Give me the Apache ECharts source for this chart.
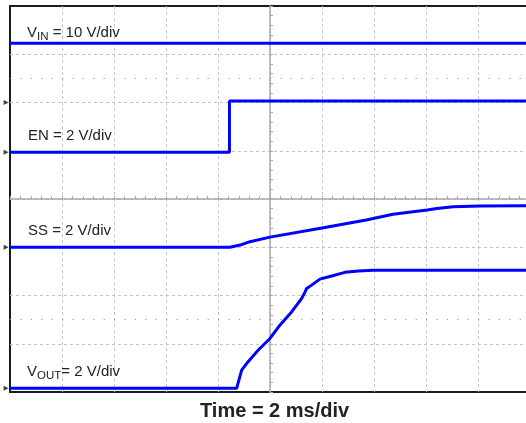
<!DOCTYPE html>
<html>
<head>
<meta charset="utf-8">
<script src="https://cdn.jsdelivr.net/npm/echarts@6/dist/echarts.min.js"></script>
<style>
html,body{margin:0;padding:0;background:#fff;}
#c{width:526px;height:423px;}
</style>
</head>
<body>
<div id="c"></div>
<script>
// Time axis in ms relative to screen centre (2 ms/div, 10 div)
const timeTicks = [-10, -8, -6, -4, -2, 0, 2, 4, 6, 8, 10];
// Channel settings: V/div and ground offset (divisions from centre)
const channelNames = ['VIN', 'EN', 'SS', 'VOUT'];
const channelScale = [10, 2, 2, 2];
const channelOffset = [2, 0.97, -1, -3.92];

// Traces (time ms, volts)
const vinTime = [-10, 10];
const vinVolts = [12.3, 12.3];

const enTime = [-10, -1.56, -1.56, 10];
const enVolts = [0, 0, 2.12, 2.12];

const ssTime = [-10, -1.54, -1.15, -0.77, 0, 2, 3.7, 4.73, 6.04, 6.42, 7.04, 8.08, 10];
const ssVolts = [0, 0, 0.09, 0.23, 0.42, 0.80, 1.13, 1.37, 1.54, 1.61, 1.68, 1.71, 1.72];

const voutTime = [-10, -1.28, -1.09, -0.90, -0.45, 0, 0.38, 0.83, 1.22, 1.35, 1.41, 1.60, 1.92, 2.37, 2.88, 3.40, 3.97, 10];
const voutVolts = [0, 0, 0.75, 1.02, 1.58, 2.06, 2.61, 3.16, 3.72, 3.99, 4.13, 4.27, 4.52, 4.65, 4.80, 4.86, 4.89, 4.89];

const traceTimes = [vinTime, enTime, ssTime, voutTime];
const traceVolts = [vinVolts, enVolts, ssVolts, voutVolts];

function toDiv(ch, t, v) {
  return t.map((x, i) => [x, channelOffset[ch] + v[i] / channelScale[ch]]);
}

const chart = echarts.init(document.getElementById('c'), null, {renderer: 'canvas'});
const FONT = "'Liberation Sans', Arial, Helvetica, sans-serif";
const traceColor = '#0000ff';
const centerColor = '#a8a8a8';

const series = traceTimes.map((t, ch) => ({
  name: channelNames[ch],
  type: 'line',
  data: toDiv(ch, t, traceVolts[ch]),
  showSymbol: false,
  lineStyle: {color: traceColor, width: 3},
  z: 5,
  animation: false
}));

// dotted reference lines at +/-2.5 div
series.push({
  type: 'line', data: [], silent: true,
  markLine: {
    silent: true, symbol: 'none', label: {show: false},
    lineStyle: {color: '#9a9a9a', type: [1.2, 9.2], width: 1.2},
    data: [{yAxis: 2.5}, {yAxis: -2.5}],
    animation: false
  }
});

// ground reference markers
series.push({
  type: 'scatter',
  data: channelOffset.map(o => [-10.15, o]),
  symbol: 'triangle', symbolRotate: -90, symbolSize: [5, 5],
  itemStyle: {color: '#111'},
  clip: false, silent: true, z: 10, animation: false
});

const xAxisCfg = {
  type: 'value', min: timeTicks[0], max: timeTicks[timeTicks.length - 1], interval: 2,
  axisLine: {show: true, onZero: true, lineStyle: {color: centerColor, width: 1.5}},
  axisTick: {show: true, inside: true, length: 3, lineStyle: {color: centerColor}},
  minorTick: {show: true, splitNumber: 5, length: 3, lineStyle: {color: centerColor}},
  axisLabel: {show: false},
  splitLine: {show: true, showMinLine: false, showMaxLine: false, lineStyle: {color: '#c4c4c4', type: [3, 3], width: 1}},
  minorSplitLine: {show: false}
};
const yAxisCfg = {
  type: 'value', min: -4, max: 4, interval: 1,
  axisLine: {show: true, onZero: true, lineStyle: {color: centerColor, width: 1.5}},
  axisTick: {show: true, inside: true, length: 3, lineStyle: {color: centerColor}},
  minorTick: {show: true, splitNumber: 5, length: 3, lineStyle: {color: centerColor}},
  axisLabel: {show: false},
  splitLine: {show: true, showMinLine: false, showMaxLine: false, lineStyle: {color: '#c4c4c4', type: [3, 3], width: 1}},
  minorSplitLine: {show: false}
};

const labelStyle = (text, x, y) => ({
  type: 'text', left: x, top: y, z: 20, silent: true,
  style: {
    text: text, fill: '#222', font: '15px ' + FONT,
    rich: {
      a: {fontSize: 15, fontFamily: FONT, fill: '#222', lineHeight: 18},
      s: {fontSize: 11.5, fontFamily: FONT, fill: '#222', lineHeight: 18, padding: [9, 0, 0, 0]}
    }
  }
});

chart.setOption({
  animation: false,
  backgroundColor: '#fff',
  grid: {left: 10, top: 6, width: 520, height: 386, outerBoundsMode: 'none', containLabel: false,
         show: true, borderColor: '#1c1c1c', borderWidth: 2, backgroundColor: 'transparent'},
  xAxis: xAxisCfg,
  yAxis: yAxisCfg,
  series: series,
  graphic: [
    labelStyle('{a|V}{s|IN}{a| = 10 V/div}', 27, 22),
    labelStyle('{a|EN = 2 V/div}', 28, 128),
    labelStyle('{a|SS = 2 V/div}', 28, 223),
    labelStyle('{a|V}{s|OUT}{a|= 2 V/div}', 27, 361),
    {
      type: 'text', left: 200, top: 401, z: 20, silent: true,
      style: {text: 'Time = 2 ms/div', fill: '#222', font: 'bold 20px ' + FONT}
    }
  ]
});
</script>
</body>
</html>
